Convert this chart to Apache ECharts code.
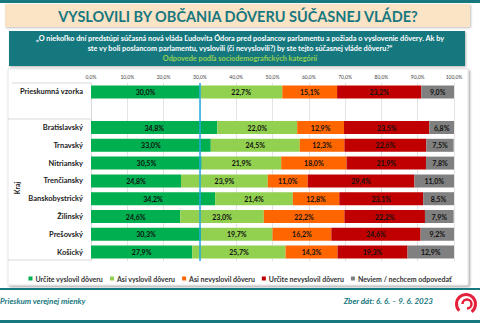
<!DOCTYPE html>
<html><head><meta charset="utf-8">
<script src="https://cdn.jsdelivr.net/npm/echarts@6/dist/echarts.min.js"></script>
<style>html,body{margin:0;padding:0;background:#fff}#c{width:480px;height:323px}</style>
</head><body><div id="c"></div>
<script>
const categories = ['Prieskumná vzorka', '', 'Bratislavský', 'Trnavský', 'Nitriansky', 'Trenčiansky', 'Banskobystrický', 'Žilinský', 'Prešovský', 'Košický'];
const seriesNames = ['Určite vyslovil dôveru', 'Asi vyslovil dôveru', 'Asi nevyslovil dôveru', 'Určite nevyslovil dôveru', 'Neviem / nechcem odpovedať'];
const urciteAno = [30.0, null, 34.8, 33.0, 30.5, 24.8, 34.2, 24.6, 30.3, 27.9];
const asiAno    = [22.7, null, 22.0, 24.5, 21.9, 23.9, 21.4, 23.0, 19.7, 25.7];
const asiNie    = [15.1, null, 12.9, 12.3, 18.0, 11.0, 12.8, 22.2, 16.2, 14.3];
const urciteNie = [23.2, null, 23.5, 22.6, 21.9, 29.4, 23.1, 22.2, 24.6, 19.3];
const neviem    = [9.0, null, 6.8, 7.5, 7.8, 11.0, 8.5, 7.9, 9.2, 12.9];
const xTicks = [0, 10, 20, 30, 40, 50, 60, 70, 80, 90, 100];
const referenceLine = 30;

const colors = ['#00B050', '#92D050', '#FF6600', '#C00000', '#808080'];
const teal = '#17787F';
const fontFam = 'Lato, "Open Sans", sans-serif';
const data = [urciteAno, asiAno, asiNie, urciteNie, neviem];

const chart = echarts.init(document.getElementById('c'), null, {renderer: 'svg'});
const series = seriesNames.map((n, i) => ({
  name: n, type: 'bar', stack: 'all', data: data[i], barCategoryGap: '27%',
  itemStyle: {color: colors[i]},
  label: {show: true, position: 'inside', color: '#111', fontSize: 7, fontWeight: 'bold', fontFamily: fontFam,
    formatter: p => p.value == null ? '' : p.value.toFixed(1).replace('.', ',') + '%'},
  markLine: i === 0 ? {silent: true, symbol: 'none', label: {show: false},
    lineStyle: {color: '#29A8E0', width: 1.5, type: 'solid'}, data: [{xAxis: referenceLine}]} : undefined
}));

const hline = (x1, x2, y) => ({type: 'line', shape: {x1, y1: y, x2, y2: y}, style: {stroke: '#d9d9d9', lineWidth: 1}});

chart.setOption({
  animation: false,
  color: colors,
  grid: {left: 91, right: 26, top: 83, bottom: 62},
  xAxis: {type: 'value', position: 'top', min: 0, max: 100, interval: 10,
    axisLine: {show: false}, axisTick: {show: false},
    splitLine: {lineStyle: {color: '#e3e3e3'}},
    axisLabel: {fontSize: 5, color: '#444', margin: 4, fontFamily: fontFam,
      formatter: v => xTicks.includes(v) ? v.toFixed(1).replace('.', ',') + '%' : ''}},
  yAxis: {type: 'category', data: categories, inverse: true,
    axisLine: {lineStyle: {color: '#d9d9d9'}}, axisTick: {show: false},
    axisLabel: {fontSize: 7.5, fontWeight: 'bold', color: '#222', margin: 8, fontFamily: fontFam}},
  legend: {top: 270, left: 'center', itemWidth: 4, itemHeight: 4, itemGap: 7,
    icon: 'rect', textStyle: {fontSize: 7, fontWeight: 'bold', color: '#333', fontFamily: fontFam, padding: [0,0,0,-2]},
    data: seriesNames},
  series: series,
  graphic: [
    {type: 'rect', shape: {x: 0, y: 0, width: 480, height: 3}, style: {fill: teal}, z: -10},
    {type: 'rect', shape: {x: 5, y: 4, width: 465, height: 23}, style: {fill: '#FBE3C6', shadowBlur: 2, shadowColor: 'rgba(0,0,0,0.25)', shadowOffsetX: 1, shadowOffsetY: 1}, z: -10},
    {type: 'text', x: 238, y: 16, style: {text: 'VYSLOVILI BY OBČANIA DÔVERU SÚČASNEJ VLÁDE?', fill: teal, font: 'bold 14.5px ' + fontFam, textAlign: 'center', textVerticalAlign: 'middle'}},
    {type: 'rect', shape: {x: 9, y: 31, width: 456, height: 35}, style: {fill: teal, shadowBlur: 2, shadowColor: 'rgba(0,0,0,0.3)', shadowOffsetX: 1, shadowOffsetY: 1}, z: -10},
    {type: 'text', x: 240, y: 38.5, style: {text: '„O niekoľko dní predstúpi súčasná nová vláda Ľudovíta Ódora pred poslancov parlamentu a požiada o vyslovenie dôvery. Ak by', fill: '#fff', font: 'bold 7.3px ' + fontFam, textAlign: 'center', textVerticalAlign: 'middle'}},
    {type: 'text', x: 240, y: 48, style: {text: 'ste vy boli poslancom parlamentu, vyslovili (či nevyslovili?) by ste tejto súčasnej vláde dôveru?“', fill: '#fff', font: 'bold 7.3px ' + fontFam, textAlign: 'center', textVerticalAlign: 'middle'}},
    {type: 'text', x: 240, y: 58, style: {text: 'Odpovede podľa sociodemografických kategórií', fill: '#92D050', font: 'bold 7.3px ' + fontFam, textAlign: 'center', textVerticalAlign: 'middle'}},
    {type: 'rect', shape: {x: 8, y: 69, width: 460, height: 216}, style: {fill: '#fff', stroke: '#e6e6e6', lineWidth: 1, shadowBlur: 2, shadowColor: 'rgba(0,0,0,0.35)', shadowOffsetX: 1.5, shadowOffsetY: 1.5}, z: -20},
    hline(12, 91, 83), hline(8, 91, 119), hline(8, 91, 260),
    {type: 'text', x: 17, y: 188, rotation: Math.PI / 2, style: {text: 'Kraj', fill: '#222', font: 'bold 7px ' + fontFam, textAlign: 'center', textVerticalAlign: 'middle'}},
    {type: 'rect', shape: {x: 0, y: 288, width: 480, height: 2}, style: {fill: teal}},
    {type: 'rect', shape: {x: 0, y: 320, width: 480, height: 3}, style: {fill: teal}},
    {type: 'text', x: 0, y: 301, style: {text: 'Prieskum verejnej mienky', fill: teal, font: 'italic bold 8px ' + fontFam, textVerticalAlign: 'middle'}},
    {type: 'text', x: 433, y: 301, style: {text: 'Zber dát: 6. 6. – 9. 6. 2023', fill: teal, font: 'italic bold 8px ' + fontFam, textAlign: 'right', textVerticalAlign: 'middle'}},
    {type: 'arc', shape: {cx: 466, cy: 304, r: 9.5, startAngle: Math.PI * 0.75, endAngle: Math.PI * 2.3}, style: {stroke: '#E5203A', lineWidth: 3, fill: 'none'}},
    {type: 'arc', shape: {cx: 467, cy: 304, r: 4.5, startAngle: Math.PI * 1.0, endAngle: Math.PI * 2.5}, style: {stroke: '#E5203A', lineWidth: 2.5, fill: 'none'}}
  ]
});
</script></body></html>
